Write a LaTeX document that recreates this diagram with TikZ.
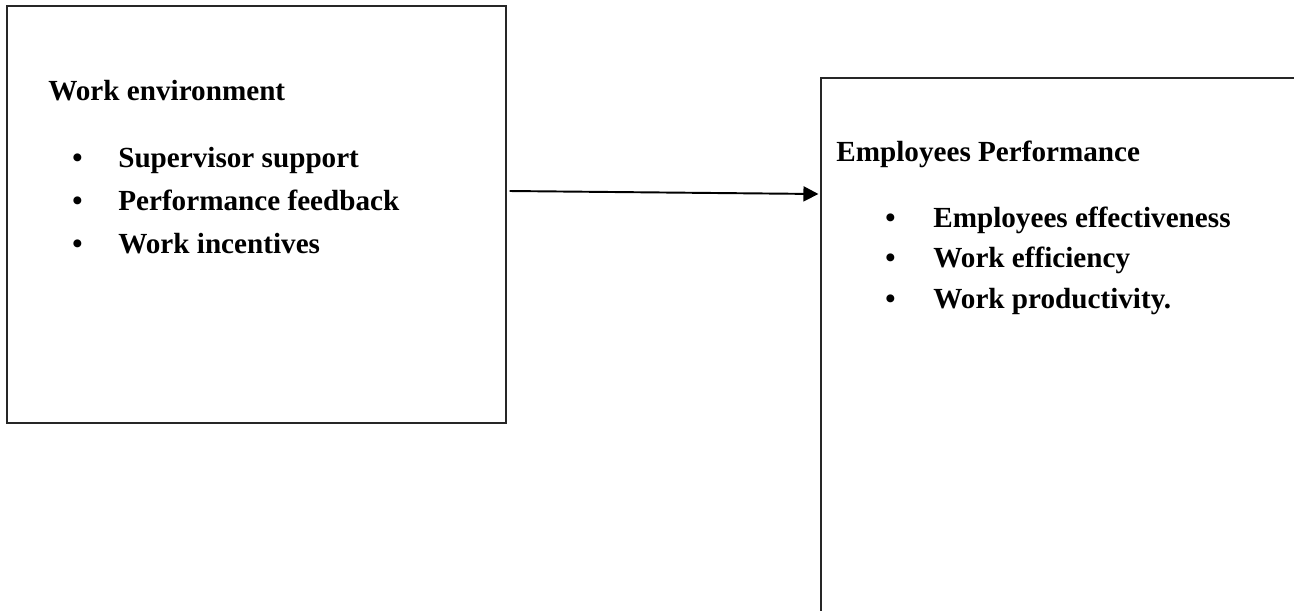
\documentclass[tikz,border=0pt]{standalone}
\usepackage{fontspec}
\setmainfont{Liberation Serif}
\usetikzlibrary{positioning,arrows.meta}

\tikzset{
  framebox/.style={rectangle, draw=black!85, line width=0.7pt, inner sep=0pt},
  heading/.style={anchor=base west, inner sep=0pt, font=\fontsize{16.6}{20}\selectfont\bfseries},
  bulletitem/.style={anchor=base west, inner sep=0pt, font=\fontsize{16.6}{20}\selectfont\bfseries}
}

\begin{document}
\begin{tikzpicture}[x=0.02cm, y=-0.02cm]
  \clip (0,0) rectangle (1294,610);
  \fill[white] (0,0) rectangle (1294,610);

  % Work environment box
  \node[framebox, minimum width=9.98cm, minimum height=8.34cm] (env) at (256.5,214.5) {};
  \node[heading] (envhead) at (48,100) {Work environment};
  \foreach \txt [count=\i] in {Supervisor support, Performance feedback, Work incentives}
    \node[bulletitem] (env\i) at (72,{167+43.3*(\i-1)}) {\makebox[0.92cm][l]{\textbullet}\txt};

  % Employees Performance box (runs past the page edge)
  \node[framebox, minimum width=9.98cm, minimum height=12cm] (perf) at (1070.5,378) {};
  \node[heading] (perfhead) at (836,161) {Employees Performance};
  \foreach \txt [count=\i] in {Employees effectiveness, Work efficiency, Work productivity.}
    \node[bulletitem] (perf\i) at (885,{227+40.5*(\i-1)}) {\makebox[0.96cm][l]{\textbullet}\txt};

  % link
  \draw[-{Triangle[length=0.3cm, width=0.3cm]}, line width=1.1pt]
    ([shift={(3,-23.5)}]env.east) -- ([shift={(-2,-184)}]perf.west);
\end{tikzpicture}
\end{document}
